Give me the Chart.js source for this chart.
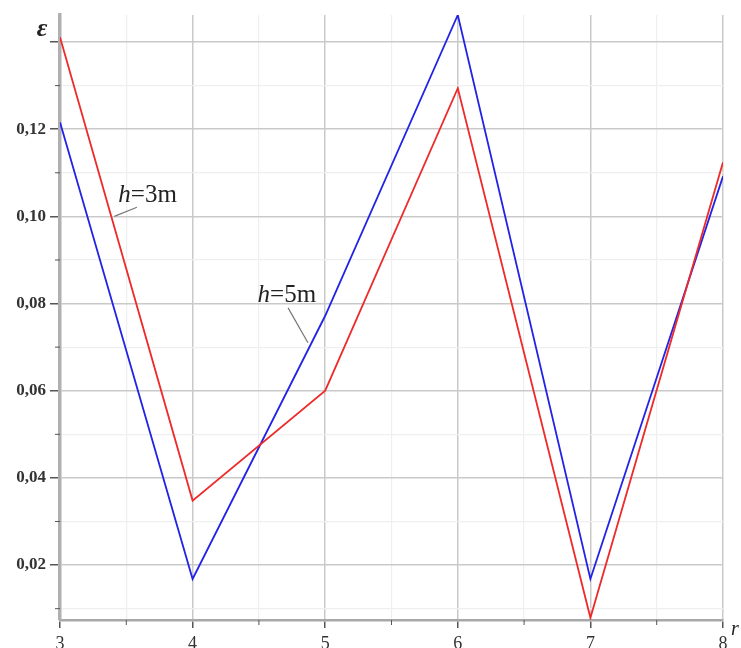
<!DOCTYPE html>
<html>
<head>
<meta charset="utf-8">
<script src="https://cdn.jsdelivr.net/npm/chart.js@4.4.0/dist/chart.umd.min.js"></script>
<style>
  html, body { margin: 0; padding: 0; background: #fff; }
  #wrap { width: 741px; height: 648px; position: relative; }
</style>
</head>
<body>
<div id="wrap"><canvas id="myChart" width="741" height="648"></canvas></div>
<script>
// values
var rValues = [3, 4, 5, 6, 7, 8];
var h3 = [0.1411, 0.0348, 0.0600, 0.1294, 0.0079, 0.1124];
var h5 = [0.1216, 0.0168, 0.0772, 0.1462, 0.0168, 0.1092];
var yMajor = [0.02, 0.04, 0.06, 0.08, 0.10, 0.12, 0.14];
var yLabeled = [0.02, 0.04, 0.06, 0.08, 0.10, 0.12];
var yMinor = [0.01, 0.03, 0.05, 0.07, 0.09, 0.11, 0.13];
var xMajor = [3, 4, 5, 6, 7, 8];
var xMinor = [3.5, 4.5, 5.5, 6.5, 7.5];

var serif = "'Liberation Serif', 'DejaVu Serif', serif";

function pts(ys) {
  return rValues.map(function(x, i) { return { x: x, y: ys[i] }; });
}
function inList(list, v) {
  for (var i = 0; i < list.length; i++) if (Math.abs(list[i] - v) < 1e-6) return true;
  return false;
}

// labels, axis symbols and minor tick marks
var extras = {
  id: 'extras',
  afterDraw: function(chart) {
    var ctx = chart.ctx;
    var xs = chart.scales.x, ys = chart.scales.y;
    var area = chart.chartArea;
    ctx.save();
    // minor tick marks
    ctx.strokeStyle = '#555';
    ctx.lineWidth = 1;
    yMinor.forEach(function(v) {
      var py = ys.getPixelForValue(v);
      if (py > area.bottom || py < area.top) return;
      ctx.beginPath(); ctx.moveTo(area.left - 5, py); ctx.lineTo(area.left, py); ctx.stroke();
    });
    xMinor.forEach(function(v) {
      var px = xs.getPixelForValue(v);
      ctx.beginPath(); ctx.moveTo(px, area.bottom); ctx.lineTo(px, area.bottom + 5); ctx.stroke();
    });

    // epsilon and r
    ctx.fillStyle = '#222';
    ctx.font = 'italic bold 26px ' + serif;
    ctx.textAlign = 'center';
    ctx.textBaseline = 'middle';
    ctx.fillText('\u03b5', area.left - 18, area.top + 14);
    ctx.font = 'italic 20px ' + serif;
    ctx.fillText('r', area.right + 12, area.bottom + 10);

    // curve labels
    function label(x, y, num, lx1, ly1, lx2, ly2) {
      var px = xs.getPixelForValue(x), py = ys.getPixelForValue(y);
      ctx.textAlign = 'left';
      ctx.textBaseline = 'middle';
      ctx.fillStyle = '#222';
      ctx.font = 'italic 25px ' + serif;
      ctx.fillText('h', px, py);
      var w = ctx.measureText('h').width;
      ctx.font = '25px ' + serif;
      ctx.fillText('=' + num + 'm', px + w, py);
      ctx.strokeStyle = '#777';
      ctx.lineWidth = 1.2;
      ctx.beginPath();
      ctx.moveTo(xs.getPixelForValue(lx1), ys.getPixelForValue(ly1));
      ctx.lineTo(xs.getPixelForValue(lx2), ys.getPixelForValue(ly2));
      ctx.stroke();
    }
    label(3.44, 0.1049, 3, 3.58, 0.1021, 3.41, 0.1000);
    label(4.49, 0.0819, 5, 4.72, 0.0790, 4.87, 0.0710);
    ctx.restore();
  }
};

var ctx = document.getElementById('myChart').getContext('2d');
var myChart = new Chart(ctx, {
  type: 'line',
  data: {
    datasets: [
      { label: 'h=3m', data: pts(h3), borderColor: '#ee2a2a', borderWidth: 1.8, pointRadius: 0, tension: 0, fill: false },
      { label: 'h=5m', data: pts(h5), borderColor: '#2323e6', borderWidth: 1.8, pointRadius: 0, tension: 0, fill: false }
    ]
  },
  options: {
    responsive: false,
    animation: false,
    layout: { padding: { top: 15, right: 18, left: 0, bottom: 0 } },
    plugins: { legend: { display: false }, tooltip: { enabled: false } },
    scales: {
      x: {
        type: 'linear',
        min: 3, max: 8,
        afterBuildTicks: function(scale) {
          scale.ticks = xMajor.concat(xMinor).sort().map(function(v) { return { value: v }; });
        },
        afterFit: function(scale) { scale.height = 28; },
        border: { color: '#a8a8a8', width: 2.5 },
        grid: {
          color: function(c) { return inList(xMajor, c.tick.value) ? '#c9c9c9' : '#efefef'; },
          lineWidth: function(c) { return inList(xMajor, c.tick.value) ? 1.5 : 1.2; },
          tickColor: function(c) { return inList(xMajor, c.tick.value) ? '#555' : 'rgba(0,0,0,0)'; },
          tickLength: 8
        },
        ticks: {
          autoSkip: false, maxRotation: 0, padding: 5,
          color: '#333',
          font: { family: serif, size: 18 },
          callback: function(v) { return inList(xMajor, v) ? String(v) : ''; }
        }
      },
      y: {
        min: 0.0074, max: 0.1462,
        afterBuildTicks: function(scale) {
          scale.ticks = yMajor.concat(yMinor).filter(function(v) { return v > 0.0074; })
            .sort(function(a, b) { return a - b; }).map(function(v) { return { value: v }; });
        },
        afterFit: function(scale) { scale.width = 60; },
        border: { color: '#b0b0b0', width: 3.5 },
        grid: {
          color: function(c) { return inList(yMajor, c.tick.value) ? '#c9c9c9' : '#efefef'; },
          lineWidth: function(c) { return inList(yMajor, c.tick.value) ? 1.5 : 1.2; },
          tickColor: function(c) { return inList(yMajor, c.tick.value) ? '#555' : 'rgba(0,0,0,0)'; },
          tickLength: 10
        },
        ticks: {
          autoSkip: false, padding: 4,
          color: '#333',
          font: { family: serif, size: 17, weight: 'bold' },
          callback: function(v) { return inList(yLabeled, v) ? v.toFixed(2).replace('.', ',') : ''; }
        }
      }
    }
  },
  plugins: [extras]
});
</script>
</body>
</html>
